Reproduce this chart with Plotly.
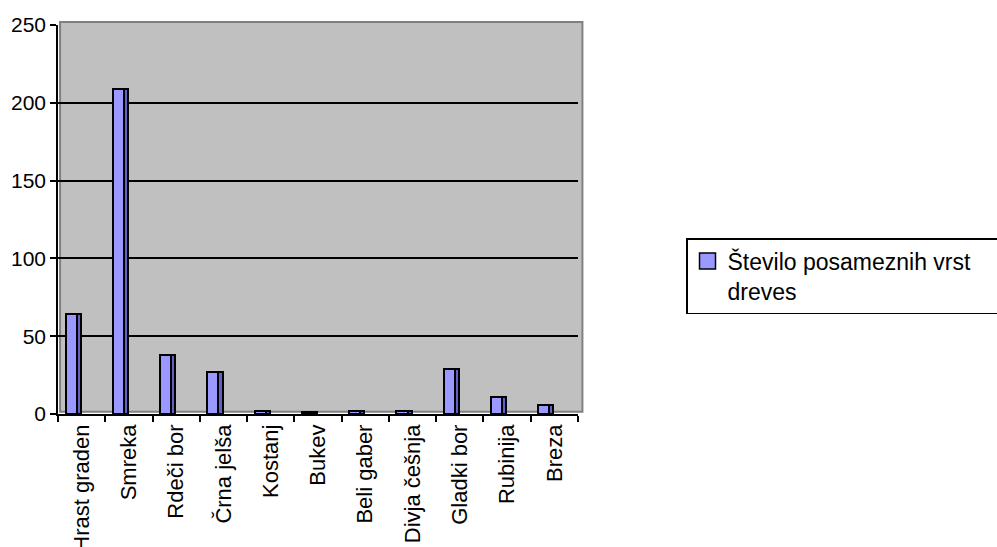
import plotly.graph_objects as go

# Tree species counted and the number of trees of each
species = ["Hrast graden", "Smreka", "Rdeči bor", "Črna jelša", "Kostanj", "Bukev",
           "Beli gaber", "Divja češnja", "Gladki bor", "Rubinija", "Breza"]
counts = [64, 209, 38, 27, 2, 1, 2, 2, 29, 11, 6]
series_name = "Število posameznih vrst<br>dreves"
y_ticks = [0, 50, 100, 150, 200, 250]

FRONT = "#9999FF"
SIDE = "#6262C4"
WALL = "#C0C0C0"
FONT = "Liberation Sans, Arial, sans-serif"

fig = go.Figure()

# front face of each column
fig.add_trace(go.Bar(
    x=species, y=counts, width=0.235, offset=-0.34,
    marker=dict(color=FRONT, line=dict(color="black", width=2)),
    showlegend=False, hoverinfo="x+y",
))
# darker side face for the 3-D look
fig.add_trace(go.Bar(
    x=species, y=counts, width=0.085, offset=-0.105,
    marker=dict(color=SIDE, line=dict(color="black", width=2)),
    showlegend=False, hoverinfo="skip",
))
# legend entry with a larger square swatch; trailing no-break spaces
# widen the legend box so it runs past the right edge of the page
fig.add_trace(go.Scatter(
    x=[None], y=[None], mode="markers",
    name=series_name.replace("<br>", "\u00a0" * 5 + "<br>"),
    marker=dict(symbol="square", size=16, color=FRONT,
                line=dict(color="black", width=1.5)),
))

# grey back wall of the chart, slightly offset up and right
fig.add_shape(type="rect", xref="paper", yref="paper",
              x0=0.004, x1=1.0085, y0=0.006, y1=1.0075,
              fillcolor=WALL, line=dict(color="#808080", width=2), layer="below")

fig.update_layout(
    width=997, height=547,
    margin=dict(l=58, r=419, t=25, b=133, autoexpand=False),
    paper_bgcolor="white", plot_bgcolor="rgba(0,0,0,0)",
    font=dict(family=FONT, size=22, color="black"),
    bargap=0.0, barmode="overlay",
    showlegend=True,
    legend=dict(x=1.2077, y=0.4524, xanchor="left", yanchor="top",
                bordercolor="black", borderwidth=1.5, bgcolor="white",
                valign="top", font=dict(family=FONT, size=23, color="black")),
)
fig.update_xaxes(
    type="category", tickson="boundaries", ticks="outside", ticklen=6,
    tickcolor="black", tickwidth=1.5, tickangle=-90,
    showline=True, linecolor="black", linewidth=1.5,
    showgrid=False, tickfont=dict(size=22),
)
fig.update_yaxes(
    range=[0, 250], tickvals=y_ticks, ticks="outside", ticklen=6,
    tickcolor="black", tickwidth=1.5,
    showline=True, linecolor="black", linewidth=1.5,
    showgrid=True, gridcolor="black", gridwidth=2, zeroline=False,
    tickfont=dict(size=21),
)

fig.write_html("out.html")
